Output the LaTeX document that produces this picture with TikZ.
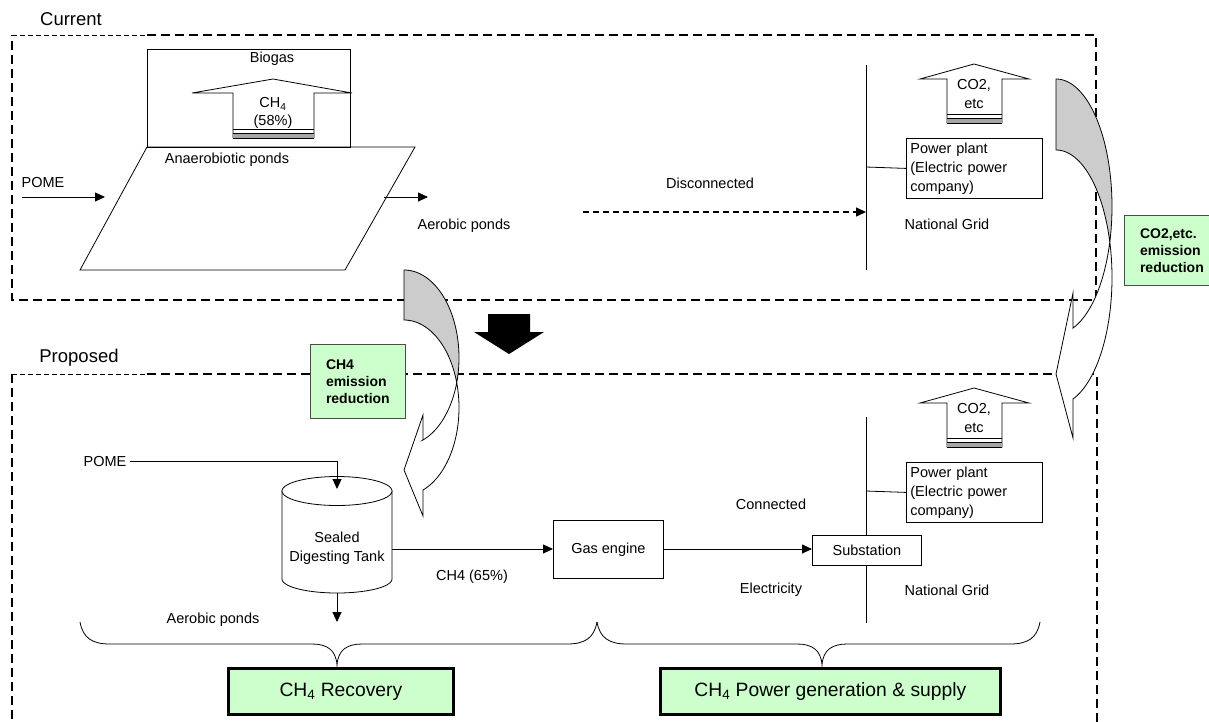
\documentclass[tikz,border=0pt]{standalone}
\usepackage{fontspec}
\setmainfont{Liberation Sans}
\usetikzlibrary{arrows.meta}
\definecolor{paleGreen}{HTML}{CCFFCC}
\definecolor{bandGray}{HTML}{CCCCCC}
\begin{document}
\begin{tikzpicture}[x=1pt,y=-1pt,
  txt/.style={font=\fontsize{14.5}{19}\selectfont, inner sep=0pt},
  zonetxt/.style={font=\fontsize{18.5}{22}\selectfont, inner sep=0pt},
  plainbox/.style={draw, fill=white, line width=0.8pt, inner sep=0pt, anchor=north west,
                   font=\fontsize{14.5}{19}\selectfont},
  plantbox/.style={plainbox, align=left, text width=128pt, inner sep=4pt, minimum height=60pt},
  arr/.style={line width=0.9pt, -{Triangle[length=10pt,width=9pt]}},
  dasharr/.style={arr, line width=1.3pt, dash pattern=on 6pt off 4pt},
  zoneframe/.style={line width=1.5pt, dash pattern=on 9pt off 5pt},
  thinframe/.style={line width=0.9pt, dash pattern=on 5pt off 3pt},
  outline/.style={draw, line width=0.8pt},
  greentag/.style={draw=black!70, fill=paleGreen, line width=0.8pt, anchor=north west,
                   font=\bfseries\fontsize{14}{17}\selectfont, align=left, inner sep=3pt},
  summary/.style={draw, fill=paleGreen, line width=2.8pt, anchor=north west,
                  font=\fontsize{19.3}{22}\selectfont, inner sep=0pt}
]
\useasboundingbox (0,0) rectangle (1209,721);
\clip (0,0) rectangle (1209,721);

% ---------- dashed zone frames ----------
\draw[zoneframe] (147,35) -- (1096,35) -- (1096,300) -- (12,300) -- (12,35);
\draw[thinframe] (12,35) -- (147,35);
\draw[zoneframe] (147,374) -- (1097,374);
\draw[zoneframe] (1097,377) -- (1097,730);
\draw[zoneframe] (12,374) -- (12,730);
\draw[thinframe] (12,374) -- (147,374);

\node[zonetxt] (curLbl) at (71,19) {Current};
\node[zonetxt] (propLbl) at (79,358) {Proposed};

% ---------- current situation ----------
\node[plainbox, minimum width=203pt, minimum height=98pt] (biogasBox) at (147,49) {};
\node[txt] (biogasLbl) at (272,59) {Biogas};
% methane release block arrow
\filldraw[outline, fill=white] (273,79) -- (352,93) -- (314,93) -- (314,138)
  -- (233,138) -- (233,93) -- (192,93) -- cycle;
\fill[black!35] (233,133) rectangle (314,138);
\draw[line width=0.8pt] (233,129) -- (314,129) (233,133) -- (314,133) (233,138) -- (314,138);
\node[txt] (ch4Lbl) at (273,104) {CH\textsubscript{4}};
\node[txt] (pctLbl) at (273,122) {(58\%)};

% anaerobic pond
\coordinate (pondTL) at (147,147);
\coordinate (pondTR) at (415,147);
\coordinate (pondBR) at (345,270);
\coordinate (pondBL) at (80,270);
\draw[line width=0.8pt] (pondTL) -- (pondTR) -- (pondBR) -- (pondBL) -- cycle;
\node[txt] (pondLbl) at (227,160) {Anaerobiotic ponds};

\node[txt] (pomeLbl) at (43,183) {POME};
\coordinate (pomeIn) at (22,197);
\coordinate (pondIn) at (105,197);
\draw[arr] (pomeIn) -- (pondIn);
\coordinate (pondOut) at (384,197);
\coordinate (aerobIn) at (428,197);
\draw[arr] (pondOut) -- (aerobIn);
\node[txt] (aerobLbl) at (464,226) {Aerobic ponds};

\node[txt] (discLbl) at (710,183) {Disconnected};
\coordinate (gridTop) at (866,65);
\coordinate (gridBot) at (866,270);
\coordinate (gridFeed) at (866,212);
\coordinate (discStart) at (583,212);
\draw[line width=0.9pt] (gridTop) -- (gridBot);
\draw[dasharr] (discStart) -- (gridFeed);

\node[plantbox] (plantA) at (906,138) {Power plant\\(Electric power\\company)};
\draw[line width=0.8pt] (866,167) -- (plantA.west);
\node[txt] (gridLblA) at (947,224) {National Grid};

% CO2 release block arrow
\filldraw[outline, fill=white] (974,64) -- (1029,79) -- (1002,79) -- (1002,123)
  -- (947,123) -- (947,79) -- (920,79) -- cycle;
\fill[black!35] (947,118) rectangle (1002,123);
\draw[line width=0.8pt] (947,114) -- (1002,114) (947,118) -- (1002,118) (947,123) -- (1002,123);
\node[txt] (co2LblA) at (974,85) {CO2,};
\node[txt] (etcLblA) at (974,104) {etc};

% ---------- transition arrow ----------
\fill (488,314) -- (530,314) -- (530,332) -- (544,332) -- (509,354) -- (474,332)
  -- (488,332) -- cycle;

% ---------- curved reduction arrows ----------
% methane reduction (left)
\filldraw[outline, fill=white]
  plot[domain=-16.56:69.8, samples=50] ({404+55*cos(\x)},{407.7+87.7*sin(\x)})
  -- (423,516) -- (404,470) -- (423,415) -- (423,440)
  -- plot[domain=69.8:16.56, samples=50] ({404+55*cos(\x)},{357.7+87.7*sin(\x)}) -- cycle;
\filldraw[outline, fill=bandGray]
  plot[domain=-90:16.56, samples=50] ({404+55*cos(\x)},{357.7+87.7*sin(\x)})
  -- plot[domain=-16.56:-90, samples=50] ({404+55*cos(\x)},{407.7+87.7*sin(\x)}) -- cycle;

% CO2 reduction (right)
\filldraw[outline, fill=white]
  plot[domain=-16.17:72.3, samples=50] ({1056+56*cos(\x)},{277.5+127.5*sin(\x)})
  -- (1073,438) -- (1056,374) -- (1073,293) -- (1073,328)
  -- plot[domain=72.3:16.17, samples=50] ({1056+56*cos(\x)},{206.5+127.5*sin(\x)}) -- cycle;
\filldraw[outline, fill=bandGray]
  plot[domain=-90:16.17, samples=50] ({1056+56*cos(\x)},{206.5+127.5*sin(\x)})
  -- plot[domain=-16.17:-90, samples=50] ({1056+56*cos(\x)},{277.5+127.5*sin(\x)}) -- cycle;

\node[greentag, minimum width=95pt, minimum height=74pt] (ch4Cut) at (310,344)
  {CH4\\emission\\reduction};
\node[greentag, minimum width=95pt, minimum height=70pt] (co2Cut) at (1124,215)
  {CO2,etc.\\emission\\reduction};

% ---------- proposed project ----------
\node[txt] (pomeLblB) at (105,461) {POME};
\coordinate (pomeInB) at (130,461);
\coordinate (tankTop) at (337,489);

% sealed digesting tank
\filldraw[outline, fill=white] (282,491) -- (282,579)
  -- plot[domain=180:0, samples=40] ({337+55*cos(\x)},{579+14*sin(\x)})
  -- (392,491) -- cycle;
\filldraw[outline, fill=white]
  plot[domain=0:360, samples=72] ({337+55*cos(\x)},{491+14.5*sin(\x)}) -- cycle;
\node[txt, align=center] (tank) at (337,548) {Sealed\\Digesting Tank};
\coordinate (tankE) at (392,549);
\coordinate (tankB) at (337,593);
\coordinate (aerobB) at (337,622);
\draw[arr] (pomeInB) -| (tankTop);
\draw[arr] (tankB) -- (aerobB);
\node[txt] (aerobLblB) at (213,620) {Aerobic ponds};

\node[plainbox, minimum width=110pt, minimum height=58pt] (engine) at (553,520) {};
\node[txt] (engineLbl) at (engine.center) {Gas engine};
\draw[arr] (tankE) -- (engine.west |- tankE);
\node[txt] (gasLbl) at (472,577) {CH4 (65\%)};

\coordinate (gridTopB) at (866,417);
\coordinate (gridBotB) at (866,623);
\draw[line width=0.9pt] (gridTopB) -- (gridBotB);
\node[plainbox, minimum width=109pt, minimum height=30pt] (substation) at (812,535) {};
\node[txt] (subLbl) at (substation.center) {Substation};
\draw[arr] (engine.east |- tankE) -- (substation.west |- tankE);
\node[txt] (connLbl) at (771,504) {Connected};
\node[txt] (elecLbl) at (771,590) {Electricity};

\node[plantbox] (plantB) at (906,462) {Power plant\\(Electric power\\company)};
\draw[line width=0.8pt] (866,491) -- (plantB.west);
\node[txt] (gridLblB) at (947,590) {National Grid};

\filldraw[outline, fill=white] (974,388) -- (1029,403) -- (1002,403) -- (1002,447)
  -- (947,447) -- (947,403) -- (920,403) -- cycle;
\fill[black!35] (947,442) rectangle (1002,447);
\draw[line width=0.8pt] (947,438) -- (1002,438) (947,442) -- (1002,442) (947,447) -- (1002,447);
\node[txt] (co2LblB) at (974,409) {CO2,};
\node[txt] (etcLblB) at (974,428) {etc};

% ---------- braces and summary boxes ----------
\draw[line width=0.8pt] (80,622) .. controls (83,638) and (92,644) .. (110,644)
  -- (312,644) .. controls (327,644) and (336,650) .. (337,665)
  .. controls (338,650) and (347,644) .. (362,644) -- (567,644)
  .. controls (585,644) and (594,638) .. (597,622);
\draw[line width=0.8pt] (597,622) .. controls (600,638) and (609,644) .. (627,644)
  -- (797,644) .. controls (812,644) and (821,650) .. (822,665)
  .. controls (823,650) and (832,644) .. (847,644) -- (1010,644)
  .. controls (1028,644) and (1037,638) .. (1040,622);

\node[summary, minimum width=225pt, minimum height=46pt] (recovery) at (227,667)
  {CH\textsubscript{4} Recovery};
\node[summary, minimum width=340pt, minimum height=46pt] (powergen) at (659,667)
  {CH\textsubscript{4} Power generation \& supply};
\end{tikzpicture}
\end{document}
